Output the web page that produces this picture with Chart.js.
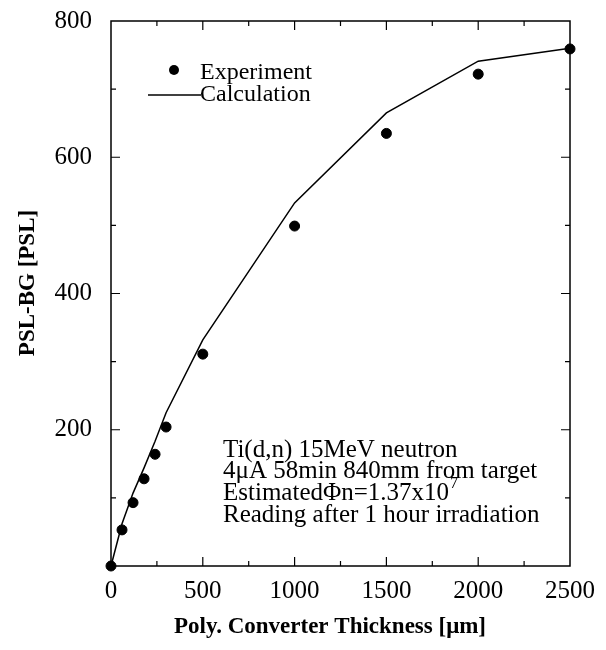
<!DOCTYPE html>
<html lang="en">
<head>
    <meta charset="UTF-8">
    <title>PSL vs Converter Thickness</title>
    <script src="https://cdn.jsdelivr.net/npm/chart.js"></script>
    <style>
        html, body { margin: 0; padding: 0; background: #fff; }
        #wrap { width: 606px; height: 650px; }
    </style>
</head>
<body>
    <div id="wrap"><canvas id="pslChart" width="606" height="650"></canvas></div>

    <script>
        // values
        const thickness = [0, 60, 120, 180, 240, 300, 500, 1000, 1500, 2000, 2500];
        const experiment = [0, 53, 93, 128, 164, 204, 311, 499, 635, 722, 759];
        const calculation = [0, 62, 107, 144, 183, 225, 332, 533, 665, 741, 760];
        const xTickLabels = [0, 500, 1000, 1500, 2000, 2500];
        const yTickLabels = [200, 400, 600, 800];
        const noteLines = [
            'Ti(d,n) 15MeV neutron',
            '4\u03BCA 58min 840mm from target',
            'Estimated\u03A6n=1.37x10',
            'Reading after 1 hour irradiation'
        ];

        const serif = '"Liberation Serif", "Times New Roman", serif';

        // ticks inside the frame, box border, legend, notes and axis titles
        const framePlugin = {
            id: 'frame',
            afterDatasetsDraw(chart) {
                const ctx = chart.ctx;
                const a = chart.chartArea;
                const xs = chart.scales.x, ys = chart.scales.y;
                ctx.save();
                ctx.strokeStyle = '#000';
                ctx.lineWidth = 1.5;
                ctx.strokeRect(a.left, a.top, a.right - a.left, a.bottom - a.top);

                ctx.lineWidth = 1.2;
                ctx.beginPath();
                for (let v = 250; v < 2500; v += 250) {
                    const px = xs.getPixelForValue(v);
                    const len = v % 500 === 0 ? 9 : 5;
                    ctx.moveTo(px, a.bottom); ctx.lineTo(px, a.bottom - len);
                    ctx.moveTo(px, a.top); ctx.lineTo(px, a.top + len);
                }
                for (let v = 100; v < 800; v += 100) {
                    const py = ys.getPixelForValue(v);
                    const len = v % 200 === 0 ? 9 : 5;
                    ctx.moveTo(a.left, py); ctx.lineTo(a.left + len, py);
                    ctx.moveTo(a.right, py); ctx.lineTo(a.right - len, py);
                }
                ctx.stroke();

                // legend
                ctx.fillStyle = '#000';
                ctx.beginPath();
                ctx.arc(174, 70, 5, 0, Math.PI * 2);
                ctx.fill();
                ctx.lineWidth = 1.3;
                ctx.beginPath();
                ctx.moveTo(148, 95); ctx.lineTo(201, 95);
                ctx.stroke();
                ctx.font = '24px ' + serif;
                ctx.textBaseline = 'middle';
                ctx.textAlign = 'left';
                ctx.fillText('Experiment', 200, 73);
                ctx.fillText('Calculation', 200, 95);

                // notes
                ctx.font = '25px ' + serif;
                noteLines.forEach((t, i) => {
                    ctx.fillText(t, 223, 450 + i * 21.7);
                });
                const w3 = ctx.measureText(noteLines[2]).width;
                ctx.font = '16px ' + serif;
                ctx.fillText('7', 223 + w3 + 1, 484);

                // axis titles
                ctx.font = 'bold 23px ' + serif;
                ctx.textAlign = 'center';
                ctx.fillText('Poly. Converter Thickness [\u03BCm]', 330, 627);
                ctx.translate(28, 283);
                ctx.rotate(-Math.PI / 2);
                ctx.fillText('PSL-BG [PSL]', 0, 0);
                ctx.restore();
            }
        };

        const ctx = document.getElementById('pslChart').getContext('2d');
        new Chart(ctx, {
            type: 'scatter',
            data: {
                datasets: [
                    {
                        label: 'Experiment',
                        data: thickness.map((t, i) => ({ x: t, y: experiment[i] })),
                        backgroundColor: '#000',
                        borderColor: '#000',
                        pointRadius: 5,
                        pointHoverRadius: 5,
                        showLine: false,
                        clip: false
                    },
                    {
                        label: 'Calculation',
                        type: 'line',
                        data: thickness.map((t, i) => ({ x: t, y: calculation[i] })),
                        borderColor: '#000',
                        borderWidth: 1.5,
                        pointRadius: 0,
                        tension: 0,
                        fill: false,
                        clip: false
                    }
                ]
            },
            options: {
                responsive: false,
                animation: false,
                layout: { padding: { top: 21, right: 36, left: 0, bottom: 0 } },
                plugins: {
                    legend: { display: false },
                    tooltip: { enabled: false }
                },
                scales: {
                    x: {
                        type: 'linear',
                        min: 0,
                        max: 2500,
                        grid: { display: false, drawTicks: false },
                        border: { display: false },
                        afterBuildTicks(scale) {
                            scale.ticks = xTickLabels.map(v => ({ value: v }));
                        },
                        afterFit(scale) {
                            scale.height = 84;
                            scale.paddingLeft = 0;
                            scale.paddingRight = 0;
                        },
                        ticks: {
                            color: '#000',
                            padding: 10,
                            font: { family: serif, size: 25 },
                            maxRotation: 0,
                            callback: v => String(v)
                        }
                    },
                    y: {
                        min: 0,
                        max: 800,
                        grid: { display: false, drawTicks: false },
                        border: { display: false },
                        afterBuildTicks(scale) {
                            scale.ticks = yTickLabels.map(v => ({ value: v }));
                        },
                        afterFit(scale) {
                            scale.width = 111;
                            scale.paddingTop = 0;
                            scale.paddingBottom = 0;
                        },
                        ticks: {
                            color: '#000',
                            padding: 19,
                            font: { family: serif, size: 25 },
                            callback: v => String(v)
                        }
                    }
                }
            },
            plugins: [framePlugin]
        });
    </script>
</body>
</html>
